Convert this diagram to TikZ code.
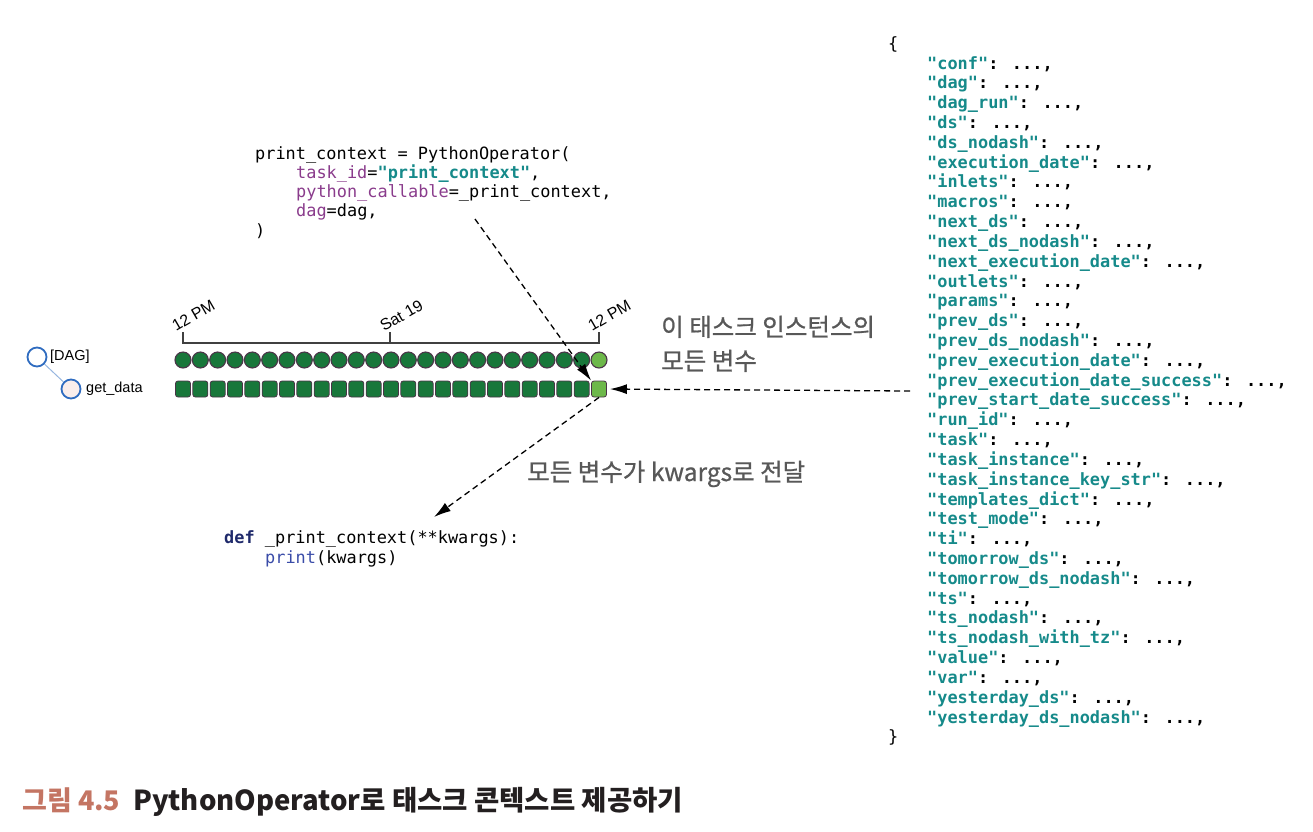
\documentclass[tikz,border=0pt]{standalone}
\usepackage{fontspec}
\usetikzlibrary{arrows.meta}
\newfontfamily\mono{DejaVu Sans Mono}
\newfontfamily\kr{Noto Sans CJK KR}[FakeBold=0.8]
\newfontfamily\krc{Noto Sans CJK KR}
\newfontfamily\ui{Liberation Sans}
\definecolor{teal}{HTML}{168A8A}
\definecolor{purp}{HTML}{8A3C8C}
\definecolor{navy}{HTML}{1F2A6B}
\definecolor{pblue}{HTML}{3A4CA8}
\definecolor{dgreen}{HTML}{18773A}
\definecolor{lgreen}{HTML}{6DB84A}
\definecolor{rim}{HTML}{4A3548}
\definecolor{treeblue}{HTML}{2F6CC0}
\definecolor{labgray}{HTML}{585858}
\definecolor{capred}{HTML}{C47563}
\tikzset{
  code/.style={inner sep=0pt, anchor=base west, font=\mono\fontsize{16.9}{19}\selectfont},
  json/.style={inner sep=0pt, anchor=base west, font=\mono\bfseries\fontsize{16.9}{19}\selectfont},
  dot/.style={circle, draw=rim, line width=1.1pt, fill=dgreen, minimum size=16pt, inner sep=0pt},
  sq/.style={rectangle, rounded corners=2.5pt, draw=rim, line width=0.8pt, fill=dgreen, minimum width=15pt, minimum height=16pt, inner sep=0pt},
  tick/.style={inner sep=0pt, anchor=base west, rotate=30, font=\ui\fontsize{16}{18}\selectfont},
  lab/.style={inner sep=0pt, anchor=base west, text=labgray, font=\kr\fontsize{24.5}{28}\selectfont},
  conn/.style={dash pattern=on 6pt off 4pt, line width=1.3pt, -{Latex[length=17pt,width=10pt]}},
  treenode/.style={circle, draw=treeblue, line width=1.8pt, minimum size=19pt, inner sep=0pt},
}
\begin{document}
\begin{tikzpicture}[x=1pt,y=-1pt]
\useasboundingbox (0,0) rectangle (1313,831);
% code block top
\node[code] (c1) at (255,159) {print\_context = PythonOperator(};
\node[code] (c2) at (296,178) {\textcolor{purp}{task\_id}=\textcolor{teal}{\bfseries"print\_context"},};
\node[code] (c3) at (296,197) {\textcolor{purp}{python\_callable}=\_print\_context,};
\node[code] (c4) at (296,216) {\textcolor{purp}{dag}=dag,};
\node[code] (c5) at (255,236) {)};
% def block
\node[code] (d1) at (224,543) {\textcolor{navy}{\bfseries def} \_print\_context(**kwargs):};
\node[code] (d2) at (265,563) {\textcolor{pblue}{print}(kwargs)};
% tree
\node[treenode, fill=white] (t1) at (37,357) {};
\node[treenode, fill={rgb,255:red,250;green,238;blue,236}] (t2) at (71,389) {};
\draw[treeblue!50, line width=1pt] (t1) -- (t2);
\node[inner sep=0pt, anchor=west, font=\ui\fontsize{14.5}{16}\selectfont] (dagl) at (50,357) {[DAG]};
\node[inner sep=0pt, anchor=west, font=\ui\fontsize{14.5}{16}\selectfont] (gd) at (86,389) {get\_data};
% axis
\draw[black!75, line width=1.1pt] (183,332) -- (183,343) -- (599,343) -- (599,332);
\draw[black!75, line width=1.1pt] (390,343) -- (390,332);
\node[tick] (tk1) at (176,332) {12 PM};
\node[tick] (tk2) at (384,332) {Sat 19};
\node[tick] (tk3) at (592,332) {12 PM};
% dots and squares
\foreach \i in {0,...,23} {
  \node[dot] (dt\i) at ({183+\i*17.333},360) {};
  \node[sq] (sq\i) at ({183+\i*17.333},389) {};
}
\node[dot, fill=lgreen] (dt24) at (599,360) {};
\node[sq, fill=lgreen] (sq24) at (599,389) {};
% labels
\node[lab] (l1) at (661,336) {이 태스크 인스턴스의};
\node[lab] (l2) at (661,370) {모든 변수};
\node[lab] (l3) at (527,481) {모든 변수가 kwargs로 전달};
% json
\node[json, font=\mono\fontsize{16.9}{19}\selectfont] (jo) at (888,49) {\{};
\foreach [count=\n from 0] \k in {conf,dag,dag\_run,ds,ds\_nodash,execution\_date,inlets,macros,next\_ds,next\_ds\_nodash,next\_execution\_date,outlets,params,prev\_ds,prev\_ds\_nodash,prev\_execution\_date,prev\_execution\_date\_success,prev\_start\_date\_success,run\_id,task,task\_instance,task\_instance\_key\_str,templates\_dict,test\_mode,ti,tomorrow\_ds,tomorrow\_ds\_nodash,ts,ts\_nodash,ts\_nodash\_with\_tz,value,var,yesterday\_ds,yesterday\_ds\_nodash} {
  \node[json] (j\n) at (927,{69+\n*19.82}) {\textcolor{teal}{"\k"}: ...,};
}
\node[json, font=\mono\fontsize{16.9}{19}\selectfont] (jc) at (888,742) {\}};
% connectors
\coordinate (s1) at (475,219);
\coordinate (s2) at (910,391);
\coordinate (e3) at (434,517);
\draw[conn] (s1) -- (sq24.north west);
\draw[conn, shorten >=3pt] (s2) -- (sq24.east);
\draw[conn] (sq24.south) -- (e3);
% caption
\node[inner sep=0pt, anchor=base west, text=capred, font=\krc\bfseries\fontsize{27}{30}\selectfont] (cap1) at (22,810) {그림 4.5};
\node[inner sep=0pt, anchor=base west, text={rgb,255:red,35;green,31;blue,32}, font=\krc\bfseries\fontsize{27.5}{30}\selectfont] (cap2) at (133,810) {PythonOperator로 태스크 콘텍스트 제공하기};
\end{tikzpicture}
\end{document}
